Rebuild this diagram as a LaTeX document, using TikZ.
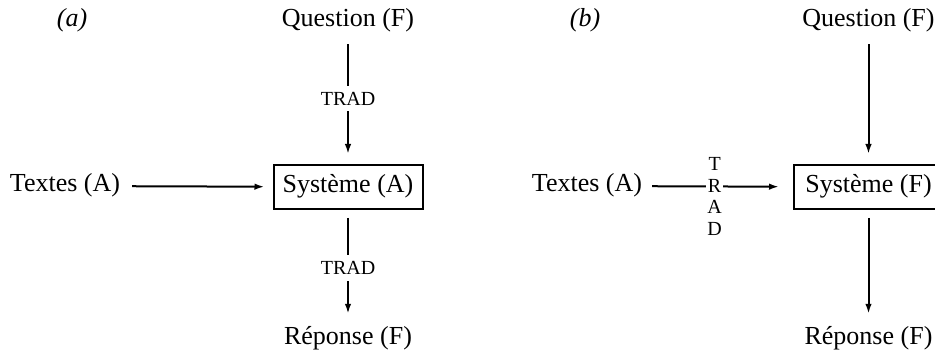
\documentclass[tikz,border=0pt]{standalone}
\usepackage{fontspec}
\setmainfont{Liberation Serif}
\usetikzlibrary{arrows.meta}
\begin{document}
\begin{tikzpicture}[x=1pt,y=-1pt,
  lbl/.style={font=\fontsize{26}{30}\selectfont, inner sep=0pt, text height=18pt, text depth=6pt},
  sysbox/.style={lbl, draw, line width=2pt, minimum width=149pt, minimum height=44pt},
  trad/.style={font=\fontsize{20}{22}\selectfont, inner xsep=2pt, inner ysep=6pt, fill=white},
  arr/.style={line width=2pt, -{Latex[length=10pt,width=6.5pt]}}]
\useasboundingbox (0,0) rectangle (935,358);
% (a)
\node[lbl, font=\fontsize{26}{30}\selectfont\itshape] (la) at (72,21) {(a)};
\node[lbl] (qa) at (348,21) {Question (F)};
\node[lbl] (ta) at (65,186) {Textes (A)};
\node[sysbox] (sa) at (348,187) {Système (A)};
\node[lbl] (ra) at (348,338) {Réponse (F)};
\draw[arr, shorten <=11pt, shorten >=10pt] (qa) -- node[trad] {TRAD} (sa);
\draw[arr, shorten <=8pt, shorten >=12pt] (sa) -- node[trad] {TRAD} (ra);
\draw[arr, shorten <=12pt, shorten >=8pt] (ta) -- (sa);
% (b)
\node[lbl, font=\fontsize{26}{30}\selectfont\itshape] (lb) at (585,21) {(b)};
\node[lbl] (qb) at (868.5,21) {Question (F)};
\node[lbl] (tb) at (587,186) {Textes (A)};
\node[sysbox] (sb) at (868.5,187) {Système (F)};
\node[lbl] (rb) at (868.5,338) {Réponse (F)};
\draw[arr, shorten <=11pt, shorten >=10pt] (qb) -- (sb);
\draw[arr, shorten <=8pt, shorten >=12pt] (sb) -- (rb);
\draw[arr, shorten <=10pt, shorten >=14pt] (tb) -- node[fill=white, pos=0.48, yshift=-10pt, align=center, inner xsep=1pt, inner ysep=0pt, font=\fontsize{20}{21.7}\selectfont] {T\\R\\A\\D} (sb);
\end{tikzpicture}
\end{document}
